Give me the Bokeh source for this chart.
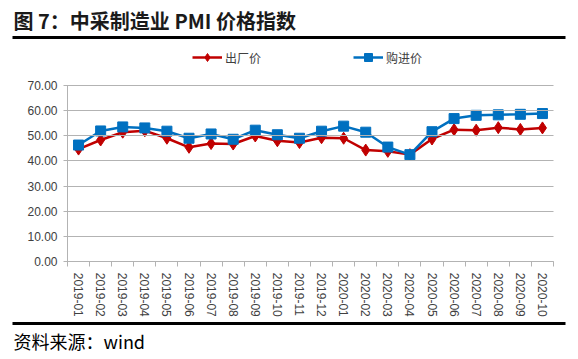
from bokeh.plotting import figure
from bokeh.models import (Range1d, FixedTicker, Legend, LegendItem, LinearAxis,
                          ColumnDataSource, NumeralTickFormatter, Title)
from bokeh.embed import file_html
from bokeh.resources import INLINE

months = ["2019-01", "2019-02", "2019-03", "2019-04", "2019-05", "2019-06",
          "2019-07", "2019-08", "2019-09", "2019-10", "2019-11", "2019-12",
          "2020-01", "2020-02", "2020-03", "2020-04", "2020-05", "2020-06",
          "2020-07", "2020-08", "2020-09", "2020-10"]
output_price = [44.7, 48.3, 51.4, 52.0, 49.0, 45.4, 46.9, 46.7, 49.9, 48.0, 47.3,
                49.2, 49.0, 44.3, 43.8, 42.5, 48.7, 52.4, 52.2, 53.2, 52.5, 53.1]
input_price = [46.3, 51.9, 53.5, 53.1, 51.8, 49.0, 50.7, 48.6, 52.2, 50.4, 49.0,
               51.8, 53.8, 51.4, 45.5, 42.5, 51.6, 56.8, 58.1, 58.3, 58.5, 58.8]
y_ticks = [0, 10, 20, 30, 40, 50, 60, 70]
title_text = "图 7：中采制造业 PMI 价格指数"
source_text = "资料来源：wind"
series_names = ["出厂价", "购进价"]

W, H = 574, 357
n = len(months)
xs = [i + 0.5 for i in range(n)]

# frame spans page x 12..565; the data area (0..n) spans 67..553
FL, FR, DL, DR = 12, 565, 67, 553
ppu = (DR - DL) / n
# frame spans page y 36..323; value 70 sits at y=84 and value 0 at y=261
FT, FB, Y70, Y0 = 36, 323, 84, 261
ppv = (Y0 - Y70) / 70.0

p = figure(width=W, height=H, output_backend="svg", toolbar_location=None,
           title=None,
           x_range=Range1d(-(DL - FL) / ppu, n + (FR - DR) / ppu),
           y_range=Range1d(-(FB - Y0) / ppv, 70 + (Y70 - FT) / ppv),
           min_border_left=FL, min_border_right=W - FR,
           min_border_top=FT, min_border_bottom=H - FB)
p.outline_line_color = None
p.xgrid.visible = False
p.ygrid.visible = False

src = ColumnDataSource(dict(x=xs, out=output_price, inp=input_price))

RED = "#c00000"
BLUE = "#0070c0"
r1 = p.line("x", "out", source=src, line_color=RED, line_width=2.5)
r1m = p.scatter("x", "out", source=src, marker="diamond", size=12,
                fill_color=RED, line_color=RED)
r2 = p.line("x", "inp", source=src, line_color=BLUE, line_width=2.5)
r2m = p.scatter("x", "inp", source=src, marker="square", size=10,
                fill_color=BLUE, line_color=BLUE)

GRAY = "#b3b3b3"

# x axis pinned at y = 0: ticks at month boundaries, labels at month centres
xa = p.xaxis[0]
xa.fixed_location = 0
xa.ticker = FixedTicker(ticks=xs, minor_ticks=list(range(n + 1)))
xa.major_label_overrides = {x: m for x, m in zip(xs, months)}
xa.bounds = (0, n)
xa.major_tick_in = 0
xa.major_tick_out = 0
xa.minor_tick_in = 0
xa.minor_tick_out = 5
xa.minor_tick_line_color = GRAY
xa.axis_line_color = GRAY
xa.major_label_orientation = -1.5707963
xa.major_label_text_font = "Liberation Sans"
xa.major_label_text_font_size = "12px"
xa.major_label_text_color = "#404040"
xa.major_label_standoff = 6

# y axis pinned at x = 0; its inward ticks act as the horizontal gridlines
ya = p.yaxis[0]
ya.fixed_location = 0
ya.bounds = (0, 70)
ya.ticker = FixedTicker(ticks=y_ticks)
ya.formatter = NumeralTickFormatter(format="0.00")
ya.axis_line_color = GRAY
ya.major_tick_in = DR - DL
ya.major_tick_out = 4
ya.major_tick_line_color = GRAY
ya.minor_tick_line_color = None
ya.major_label_text_font = "Liberation Sans"
ya.major_label_text_font_size = "12px"
ya.major_label_text_color = "#404040"
ya.major_label_standoff = 6


def rule_axis():
    return LinearAxis(ticker=FixedTicker(ticks=[]), axis_line_color="black",
                      axis_line_width=3, major_tick_in=0, major_tick_out=0,
                      minor_tick_in=0, minor_tick_out=0,
                      major_label_text_font_size="0px")


legend = Legend(items=[LegendItem(label=series_names[0], renderers=[r1, r1m]),
                       LegendItem(label=series_names[1], renderers=[r2, r2m])],
                orientation="horizontal", location=(180, FB - 67),
                spacing=92, glyph_width=30, glyph_height=20, label_height=20,
                label_text_font="Noto Sans CJK SC",
                label_text_font_size="12px", label_text_color="#404040",
                border_line_color=None, background_fill_alpha=0,
                padding=0, margin=0, label_standoff=3)
p.add_layout(legend, "center")

title = Title(text=title_text, align="left", offset=1,
              text_font="Noto Sans CJK SC", text_font_style="bold",
              text_font_size="20px", text_color="#1a1a1a", standoff=6)
source = Title(text=source_text, align="left", offset=1,
               text_font="Noto Sans CJK SC", text_font_style="normal",
               text_font_size="18px", text_color="#000000", standoff=5)

p.above = [rule_axis(), title]
p.below = [xa, rule_axis(), source]

open("out.html", "w").write(file_html(p, INLINE))
